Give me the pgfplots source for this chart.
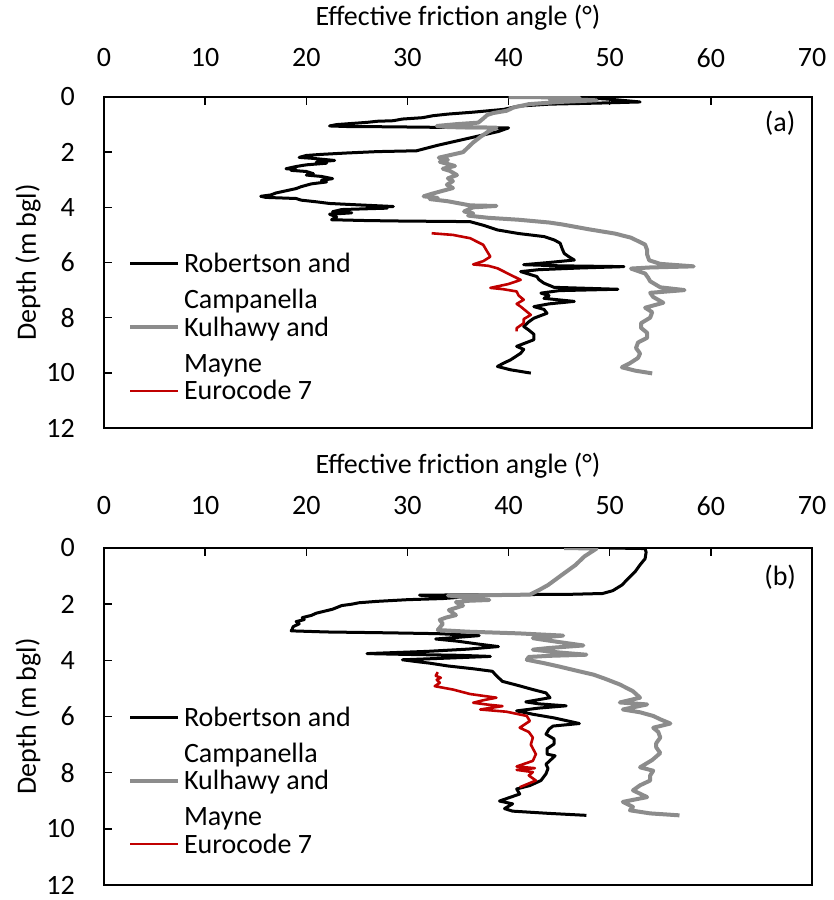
\documentclass[border=0pt]{standalone}
\usepackage{fontspec}
\setmainfont{Carlito}
\usepackage{pgfplots}
\usepackage{pgfplotstable}
\pgfplotsset{compat=1.18}
\definecolor{kgray}{HTML}{8C8C8C}
\definecolor{ered}{HTML}{C00000}
\newcommand{\fs}{\fontsize{28}{36}\selectfont}

\pgfplotstableread{
x d
46.0 0.00
50.0 0.08
53.0 0.18
49.0 0.22
44.0 0.26
41.0 0.33
39.5 0.45
38.0 0.50
36.5 0.55
34.0 0.62
32.5 0.68
31.5 0.75
29.5 0.80
28.6 0.86
27.0 0.88
26.0 0.92
24.5 0.96
23.0 1.00
22.3 1.05
24.0 1.07
28.0 1.08
33.0 1.10
36.0 1.11
40.0 1.12
39.0 1.25
36.0 1.50
33.0 1.75
30.9 1.95
27.0 1.98
24.0 2.03
21.5 2.08
20.0 2.12
19.3 2.19
20.5 2.22
22.8 2.30
21.0 2.36
22.0 2.40
20.0 2.46
19.0 2.52
18.0 2.60
19.0 2.63
18.5 2.66
20.0 2.70
20.7 2.78
20.0 2.83
21.5 2.88
22.6 2.96
21.5 3.02
22.0 3.08
20.5 3.15
19.5 3.25
19.0 3.32
18.0 3.40
17.0 3.48
16.5 3.55
15.5 3.60
16.0 3.64
17.5 3.66
19.0 3.68
19.5 3.74
21.0 3.80
22.3 3.86
24.5 3.90
28.6 3.97
26.0 4.00
28.0 4.03
23.5 4.08
22.6 4.16
24.5 4.20
22.3 4.25
23.0 4.35
22.5 4.45
26.0 4.48
30.0 4.50
34.0 4.51
36.2 4.52
37.5 4.65
38.9 4.82
41.0 4.95
43.5 5.06
44.5 5.18
45.1 5.30
45.3 5.50
45.5 5.67
46.0 5.80
46.5 5.91
44.0 6.00
41.5 6.08
45.0 6.12
51.4 6.15
47.0 6.20
43.0 6.26
41.2 6.33
42.0 6.42
42.8 6.51
43.0 6.62
43.5 6.75
44.5 6.90
50.8 6.97
45.0 7.02
43.2 7.11
44.0 7.20
43.5 7.30
46.5 7.41
44.0 7.50
42.5 7.60
43.5 7.70
43.8 7.84
43.0 7.95
42.5 8.02
42.0 8.15
41.5 8.32
42.0 8.45
42.5 8.60
42.5 8.80
40.8 9.04
41.5 9.15
41.2 9.29
40.2 9.53
39.5 9.65
38.9 9.77
40.2 9.89
42.2 10.01
}\RCa

\pgfplotstableread{
x d
40.0 0.00
47.0 0.02
44.0 0.06
48.7 0.12
45.0 0.18
42.0 0.26
40.5 0.38
39.8 0.50
38.5 0.58
37.9 0.65
37.5 0.78
37.0 0.93
35.0 0.98
32.9 1.05
34.0 1.09
36.5 1.10
38.8 1.11
38.0 1.25
37.2 1.45
36.5 1.65
35.5 2.00
33.1 2.20
34.0 2.28
33.2 2.35
34.7 2.50
33.5 2.60
34.2 2.68
34.9 2.83
34.0 2.95
34.5 3.05
33.9 3.18
34.5 3.30
33.5 3.40
32.5 3.50
31.6 3.60
33.0 3.66
32.2 3.70
34.0 3.78
36.2 3.93
38.8 3.95
36.5 4.00
35.6 4.15
36.5 4.22
36.0 4.30
38.0 4.38
41.0 4.45
44.0 4.55
45.3 4.62
48.0 4.80
50.5 4.95
52.1 5.10
53.5 5.35
53.7 5.55
53.7 5.71
53.9 5.92
55.0 6.05
58.3 6.14
54.0 6.18
52.1 6.22
53.5 6.40
53.8 6.55
54.0 6.68
55.0 6.90
57.4 7.00
54.0 7.10
54.3 7.25
55.3 7.46
53.5 7.64
54.2 7.80
54.0 8.00
53.1 8.20
53.1 8.37
53.7 8.55
53.7 8.73
52.8 8.90
52.6 9.10
53.0 9.30
52.8 9.46
52.0 9.65
51.2 9.80
52.5 9.92
54.2 10.02
}\KMa

\pgfplotstableread{
x d
32.4 4.94
34.5 5.00
36.2 5.12
37.5 5.36
37.8 5.55
38.2 5.79
37.5 5.95
36.5 6.07
38.0 6.12
38.9 6.21
39.5 6.32
40.2 6.45
41.2 6.63
40.0 6.78
38.2 6.92
39.5 6.97
40.8 7.05
41.0 7.20
41.5 7.35
40.8 7.50
41.2 7.60
42.2 7.90
41.5 8.05
41.5 8.20
40.8 8.38
40.8 8.50
}\ECa

\pgfplotstableread{
x d
50.0 0.00
53.5 0.02
53.6 0.15
53.5 0.38
53.0 0.60
52.5 0.85
51.8 1.10
51.2 1.32
50.3 1.52
49.3 1.62
46.0 1.65
40.0 1.66
35.0 1.67
31.2 1.68
33.0 1.72
35.0 1.76
33.5 1.80
30.0 1.84
27.0 1.90
25.2 1.95
24.5 2.00
23.5 2.05
22.6 2.18
21.8 2.25
21.0 2.32
20.5 2.40
19.6 2.48
19.8 2.55
19.0 2.62
19.3 2.70
18.7 2.80
18.6 2.90
18.5 2.95
22.0 2.99
28.0 3.02
33.0 3.05
37.1 3.12
35.0 3.18
32.8 3.24
35.0 3.32
37.0 3.42
39.0 3.51
36.0 3.60
32.0 3.68
26.0 3.76
30.0 3.79
35.0 3.82
38.2 3.86
34.0 3.92
29.5 3.98
31.0 4.05
32.2 4.10
34.0 4.20
36.5 4.30
38.4 4.39
38.8 4.55
39.4 4.75
41.0 4.90
42.4 5.04
43.7 5.16
44.1 5.33
41.7 5.48
43.0 5.55
45.7 5.62
43.0 5.70
40.8 5.80
42.4 5.92
44.5 6.05
47.0 6.25
44.4 6.34
44.0 6.45
43.7 6.63
44.5 6.80
44.5 6.98
43.8 7.15
43.8 7.34
44.6 7.40
43.7 7.70
43.9 7.85
43.7 8.04
43.2 8.28
42.1 8.46
40.8 8.58
41.1 8.76
39.1 9.01
40.4 9.11
39.6 9.28
40.4 9.37
44.0 9.45
47.7 9.52
}\RCb

\pgfplotstableread{
x d
45.5 0.00
48.7 0.02
47.5 0.30
46.6 0.61
45.3 0.95
43.9 1.32
43.0 1.50
42.1 1.66
38.0 1.68
34.0 1.69
35.5 1.75
38.1 1.85
36.0 1.88
34.8 1.93
35.5 2.05
34.1 2.21
34.8 2.39
33.8 2.48
33.2 2.56
33.5 2.70
33.0 2.92
36.0 2.98
41.0 3.04
45.4 3.12
42.4 3.21
43.1 3.25
45.0 3.35
47.4 3.47
44.0 3.56
42.4 3.62
45.0 3.72
47.7 3.80
44.0 3.84
42.0 3.88
41.8 3.98
43.5 4.10
45.0 4.22
46.5 4.35
48.4 4.51
49.5 4.65
51.0 4.86
52.3 5.10
53.0 5.33
51.0 5.50
53.7 5.57
51.3 5.75
53.0 5.85
54.3 5.98
55.0 6.10
56.0 6.25
54.3 6.40
54.8 6.55
55.0 6.75
54.6 6.95
54.6 7.10
55.0 7.30
54.2 7.55
53.0 7.81
54.3 7.93
54.0 8.10
54.0 8.28
53.0 8.45
52.3 8.63
53.7 8.87
51.3 9.04
52.3 9.22
52.0 9.34
54.0 9.45
56.9 9.52
}\KMb

\pgfplotstableread{
x d
33.0 4.42
32.8 4.55
33.3 4.62
32.9 4.69
33.2 4.80
32.7 4.92
34.5 5.04
36.2 5.20
38.8 5.33
37.5 5.42
36.5 5.51
38.0 5.58
39.4 5.63
37.2 5.75
39.8 5.83
41.8 5.98
42.1 6.16
41.1 6.40
42.0 6.55
42.4 6.75
42.2 7.00
42.7 7.34
42.4 7.58
40.8 7.78
42.6 7.84
40.8 7.90
42.4 7.98
42.0 8.10
42.7 8.28
41.1 8.52
}\ECb

\pgfplotsset{
  panel/.style={
    scale only axis, width=708pt,
    xmin=0, xmax=70, ymin=0, ymax=12, y dir=reverse,
    xtick={0,10,...,70}, ytick={0,2,...,12},
    xtick pos=upper, xticklabel pos=upper, ytick pos=left,
    tick align=inside, major tick length=8pt,
    every tick/.style={black, line width=1.4pt},
    axis line style={black, line width=1.6pt},
    /pgf/number format/assume math mode=true,
    tick label style={font=\fs},
    label style={font=\fs},
    yticklabel style={anchor=east, inner sep=0pt, xshift=-29pt},
    xlabel={Effective friction angle (°)},
    ylabel={Depth (m bgl)},
    ylabel style={at={(rel axis cs:-0.1073,0.5)}, anchor=center},
    legend image code/.code={\draw[##1] (0pt,9pt) -- (48pt,9pt);},
    legend style={draw=none, fill=none, inner sep=0pt, outer sep=0pt,
      anchor=north west, font=\fs, column sep=4pt, row sep=0pt,
      nodes={inner sep=0pt, text height=20pt, text depth=43.5pt},
      cells={anchor=base west}},
  },
  rc/.style={black, line width=3pt, line join=round},
  km/.style={kgray, line width=4pt, line join=round},
  ec/.style={ered, line width=2.6pt, line join=round},
}

\begin{document}
\begin{tikzpicture}
\path[use as bounding box] (0,0) rectangle (834pt,900pt);

\begin{axis}[panel, at={(104pt,472pt)}, anchor=south west, height=331pt,
  xticklabel style={anchor=center, inner sep=0pt, yshift=39pt},
  xlabel style={at={(rel axis cs:0.5,1)}, anchor=center, yshift=79pt},
  legend style={at={(rel axis cs:0.0339,0.5287)}}]
\addplot[rc] table[x=x,y=d] {\RCa};
\addlegendentry{\begin{tabular}[t]{@{}l@{}}Robertson and\\Campanella\end{tabular}}
\addplot[km] table[x=x,y=d] {\KMa};
\addlegendentry{\begin{tabular}[t]{@{}l@{}}Kulhawy and\\Mayne\end{tabular}}
\addplot[ec] table[x=x,y=d] {\ECa};
\addlegendentry{Eurocode 7}
\node[font=\fs] at (rel axis cs:0.955,0.921) {(a)};
\end{axis}

\begin{axis}[panel, at={(104pt,15pt)}, anchor=south west, height=337pt,
  xticklabel style={anchor=center, inner sep=0pt, yshift=42pt},
  xlabel style={at={(rel axis cs:0.5,1)}, anchor=center, yshift=82pt},
  legend style={at={(rel axis cs:0.0339,0.531)}}]
\addplot[rc] table[x=x,y=d] {\RCb};
\addlegendentry{\begin{tabular}[t]{@{}l@{}}Robertson and\\Campanella\end{tabular}}
\addplot[km] table[x=x,y=d] {\KMb};
\addlegendentry{\begin{tabular}[t]{@{}l@{}}Kulhawy and\\Mayne\end{tabular}}
\addplot[ec] table[x=x,y=d] {\ECb};
\addlegendentry{Eurocode 7}
\node[font=\fs] at (rel axis cs:0.955,0.914) {(b)};
\end{axis}
\end{tikzpicture}
\end{document}
